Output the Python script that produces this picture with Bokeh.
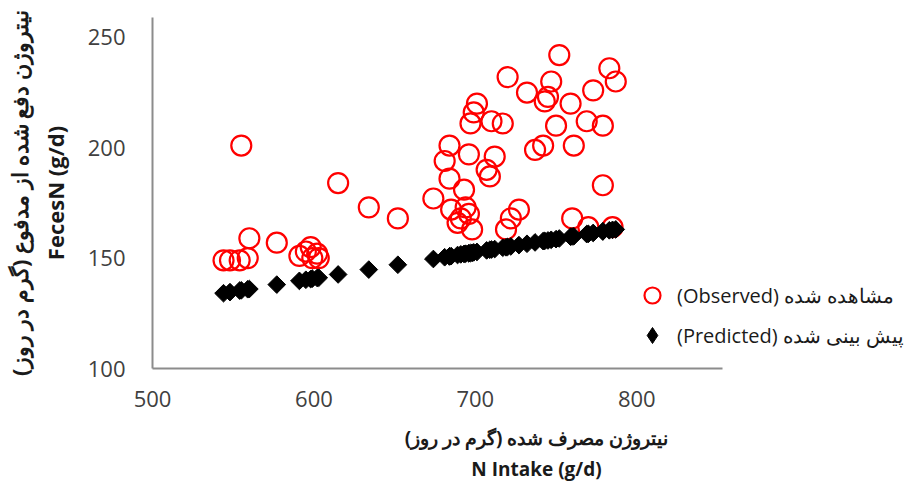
from bokeh.plotting import figure
from bokeh.models import Range1d, FixedTicker, Legend, LegendItem, ColumnDataSource
from bokeh.embed import file_html
from bokeh.resources import INLINE
import math

# N intake (g/d) for each animal
n_intake = [544, 548, 554, 559, 560, 555, 577, 591, 595, 598, 599, 603, 602, 615, 634, 652,
            674, 681, 684, 684, 685, 689, 691, 693, 694, 696, 696, 698, 697, 699, 701, 707,
            709, 710, 712, 717, 719, 720, 722, 727,
            732, 737, 742, 743, 745, 747, 750, 752, 759, 761, 760, 770, 773, 769, 779, 779,
            783, 787, 785]

# Observed fecal N (g/d)
observed = [149, 149, 149, 150, 159, 201, 157, 151, 153, 155, 150, 150, 152, 184, 173, 168,
            177, 194, 201, 186, 172, 166, 168, 181, 173, 170, 197, 163, 211, 216, 220, 190,
            187, 212, 196, 211, 163, 232, 168, 172,
            225, 199, 201, 221, 223, 230, 210, 242, 220, 201, 168, 164, 226, 212, 210, 183,
            236, 230, 164]

# Predicted fecal N (g/d)
predicted = [134.1, 134.6, 135.3, 135.9, 136.0, 135.4, 138.0, 139.7, 140.2, 140.5, 140.7, 141.1,
             141.0, 142.6, 144.8, 147.0, 149.6, 150.4, 150.8, 150.8, 150.9, 151.4, 151.7, 151.9,
             152.0, 152.2, 152.2, 152.4, 152.3, 152.6, 152.8, 153.5, 153.8, 153.9, 154.1, 154.7,
             154.9, 155.1, 155.3, 155.9, 156.5, 157.1, 157.7, 157.8, 158.0, 158.3, 158.6, 158.9,
             159.7, 159.9, 159.8, 161.0, 161.4, 160.9, 162.1, 162.1, 162.6, 163.0, 162.8]

x_ticks = [500, 600, 700, 800]
y_ticks = [100, 150, 200, 250]
x_axis_min, x_axis_max = 500, 853
y_axis_min, y_axis_max = 100, 259

label_obs = "(Observed) مشاهده شده"
label_pred = "(Predicted) پیش بینی شده"
x_title = "نیتروژن مصرف شده (گرم در روز)\nN Intake (g/d)"
y_title = "نیتروژن دفع شده از مدفوع (گرم در روز)\nFecesN (g/d)"

FONT = "Open Sans"

W, H = 920, 484
LEFT, TOP, BOTTOM, RIGHT = 145, 17, 116, 0
axis_px = 575.0  # pixel length of the drawn x axis
frame_w = W - LEFT - RIGHT
x_end = x_axis_min + frame_w * (x_axis_max - x_axis_min) / axis_px

src = ColumnDataSource(dict(x=n_intake, obs=observed, pred=predicted))

p = figure(width=W, height=H, output_backend="svg", toolbar_location=None,
           x_range=Range1d(x_axis_min, x_end), y_range=Range1d(y_axis_min, y_axis_max),
           min_border_left=LEFT, min_border_top=TOP, min_border_bottom=BOTTOM,
           min_border_right=RIGHT)

p.outline_line_color = None
p.xgrid.visible = False
p.ygrid.visible = False
p.background_fill_color = "white"
p.border_fill_color = "white"

for ax in (p.xaxis, p.yaxis):
    ax.axis_line_color = "#8c8c8c"
    ax.axis_line_width = 2
    ax.major_tick_line_color = None
    ax.minor_tick_line_color = None
    ax.major_tick_out = 0
    ax.major_tick_in = 0
    ax.minor_tick_out = 0
    ax.minor_tick_in = 0
    ax.major_label_text_font = FONT
    ax.major_label_text_font_size = "22px"
    ax.major_label_text_color = "#404040"
    ax.axis_label_text_font = FONT
    ax.axis_label_text_font_style = "bold"
    ax.axis_label_text_color = "#1a1a1a"

p.xaxis.bounds = (x_axis_min, x_axis_max)
p.xaxis.ticker = FixedTicker(ticks=x_ticks)
p.yaxis.ticker = FixedTicker(ticks=y_ticks)
p.xaxis.major_label_standoff = 22
p.yaxis.major_label_standoff = 27
p.xaxis.axis_label = x_title
p.yaxis.axis_label = y_title
p.xaxis.axis_label_text_font_size = "19px"
p.yaxis.axis_label_text_font_size = "22px"
p.xaxis.axis_label_standoff = 15
p.yaxis.axis_label_standoff = 15

r_obs = p.scatter("x", "obs", source=src, marker="circle", size=20, fill_color=None,
                  line_color="#ff0000", line_width=2.2)
# tiny diamonds hidden under the predicted markers: they supply the legend swatch
r_pred_key = p.scatter("x", "pred", source=src, marker="diamond", size=1,
                       fill_color="black", line_color="black")
r_pred = p.scatter("x", "pred", source=src, marker="square", size=12.5, angle=math.pi / 4,
                   fill_color="black", line_color="black", line_width=1)

legend = Legend(items=[LegendItem(label=label_obs, renderers=[r_obs]),
                       LegendItem(label=label_pred, renderers=[r_pred_key])],
                location=(480, 13), orientation="vertical")
legend.border_line_color = None
legend.background_fill_alpha = 0
legend.padding = 0
legend.margin = 0
legend.spacing = 0
legend.glyph_width = 40
legend.glyph_height = 40
legend.label_height = 40
legend.label_standoff = 5
legend.label_text_font = FONT
legend.label_text_font_size = "20px"
legend.label_text_color = "#1a1a1a"
p.add_layout(legend, "center")

open("out.html", "w").write(file_html(p, INLINE))
